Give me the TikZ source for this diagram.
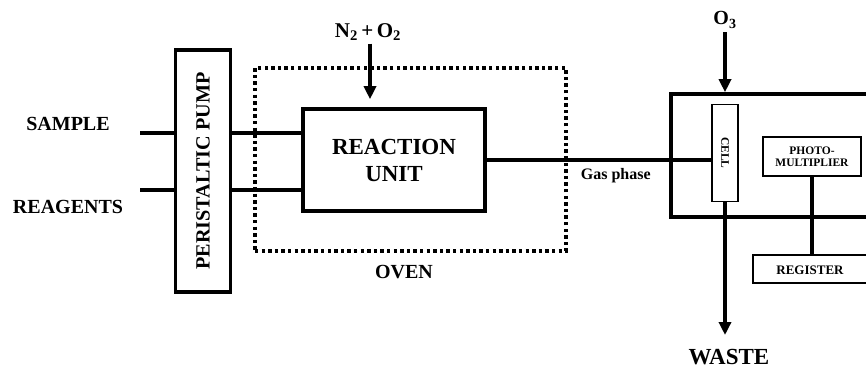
\documentclass[tikz,border=0pt]{standalone}
\usepackage{fontspec}
\setmainfont{Liberation Serif}
\usepackage{tikz}
\usetikzlibrary{arrows.meta,positioning,calc}

\begin{document}
\begin{tikzpicture}[
    x=1pt, y=-1pt,
    lbl/.style={font=\bfseries\fontsize{20}{22}\selectfont, inner sep=0pt},
    unit/.style={rectangle, draw, line width=3.6pt, inner sep=0pt},
    small/.style={rectangle, draw, line width=1.8pt, inner sep=0pt,
                  font=\bfseries\fontsize{11.5}{12.5}\selectfont, align=center},
    pipe/.style={line width=3.6pt},
    arr/.style={-{Triangle[length=13pt,width=12pt]}, line width=3.6pt},
    ovenbox/.style={rectangle, draw, line width=3.4pt,
                    dash pattern=on 3.4pt off 3.2pt, inner sep=0pt},
]
\useasboundingbox (0,0) rectangle (866,369);
\clip (0,0) rectangle (866,369);

% Inputs
\node[lbl] (sample) at (68,124) {SAMPLE};
\node[lbl] (reagents) at (68,207) {REAGENTS};
\coordinate (sampleIn) at (140,133);
\coordinate (reagIn) at (140,190);

% Pump, oven and reaction unit
\node[unit, minimum width=55pt, minimum height=242pt] (pump) at (203,171)
     {\rotatebox{90}{\bfseries\fontsize{20.2}{22}\selectfont PERISTALTIC PUMP}};
\node[ovenbox, minimum width=311pt, minimum height=183pt] (oven) at (410.5,159.5) {};
\node[unit, minimum width=182pt, minimum height=102pt, align=center,
      font=\bfseries\fontsize{23}{27}\selectfont] (reaction) at (394,160) {REACTION\\UNIT};
\node[lbl] (ovenlab) at (404,272) {OVEN};
\node[lbl, font=\bfseries\fontsize{21}{23}\selectfont] (gas) at (368,32)
     {N$_\mathbf{2}$\,+\,O$_\mathbf{2}$};

% Detector
\node[unit, minimum width=229pt, minimum height=123pt] (detector) at (785.5,155.5) {};
\node[small, minimum width=26pt, minimum height=97pt] (cell) at (725,153)
     {\rotatebox{-90}{CELL}};
\node[small, minimum width=98pt, minimum height=39pt, line width=2.2pt] (pm) at (812,156.5)
     {PHOTO-\\MULTIPLIER};
\node[small, minimum width=150pt, minimum height=28pt, line width=2.4pt] (register) at (828,269) {};
\node[font=\bfseries\fontsize{13}{14}\selectfont, inner sep=0pt] (reglab) at (810,270) {REGISTER};
\node[lbl] (ozone) at (725,20) {O$_\mathbf{3}$};
\node[lbl, font=\bfseries\fontsize{23}{25}\selectfont] (waste) at (729,357) {WASTE};
\coordinate (wasteEnd) at (725,335);

% Connections
\draw[pipe] (sampleIn) -- (sampleIn -| pump.west);
\draw[pipe] (reagIn) -- (reagIn -| pump.west);
\draw[pipe] (sampleIn -| pump.east) -- (sampleIn -| reaction.west);
\draw[pipe] (reagIn -| pump.east) -- (reagIn -| reaction.west);
\draw[arr, shorten >=8pt, shorten <=3pt] (gas.south -| 370,0) -- (reaction.north -| 370,0);
\draw[pipe] (reaction.east) -- node[pos=0.575, below=7pt,
     font=\bfseries\fontsize{16}{18}\selectfont, inner sep=0pt] (gaslab) {Gas phase}
     (reaction.east -| cell.west);
\draw[arr, shorten <=4pt] (ozone.south) -- (detector.north -| ozone);
\draw[arr] (cell.south) -- (wasteEnd);
\draw[pipe] (pm.south) -- (pm.south |- register.north);

\end{tikzpicture}
\end{document}
